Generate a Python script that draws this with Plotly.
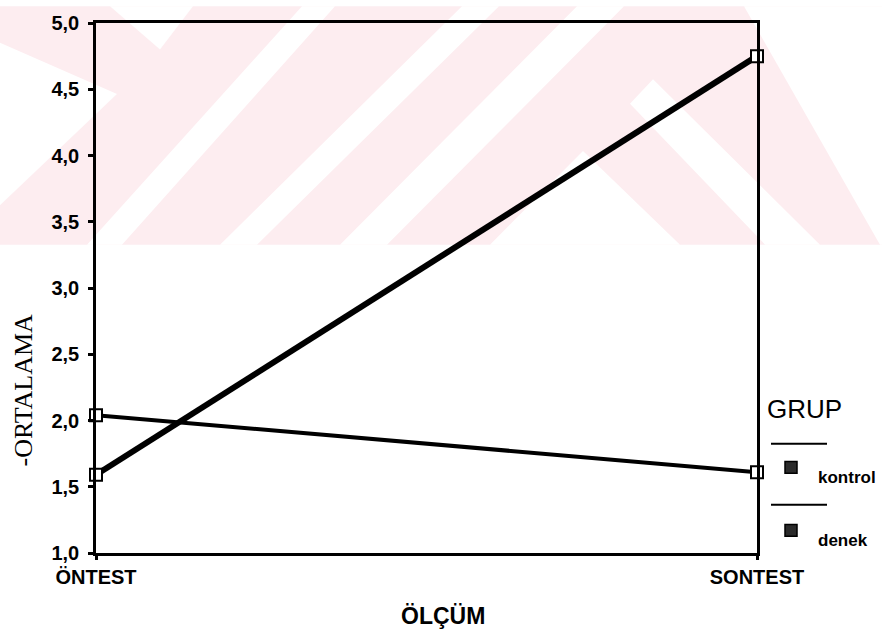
import plotly.graph_objects as go

# ---- data ----
categories = ["ÖNTEST", "SONTEST"]
group_names = ["kontrol", "denek"]
kontrol = [2.04, 1.61]
denek = [1.59, 4.75]
y_ticks = [1.0, 1.5, 2.0, 2.5, 3.0, 3.5, 4.0, 4.5, 5.0]
y_labels = ["1,0", "1,5", "2,0", "2,5", "3,0", "3,5", "4,0", "4,5", "5,0"]
x_title = "ÖLÇÜM"
y_title = "-ORTALAMA"
legend_title = "GRUP"

# ---- layout geometry (pixels) ----
W, H = 882, 638
PL_, PR_, PT_, PB_ = 96, 757, 15, 553          # plot area in pixels
L, T = PL_, PT_
R, B = W - PR_, H - PB_
PW = PR_ - PL_
PH = PB_ - PT_


def px(x):
    return (x - PL_) / PW


def py(y):
    return (PB_ - y) / PH


def poly(points):
    return "M " + " L ".join(f"{px(x):.5f},{py(y):.5f}" for x, y in points) + " Z"


PINK = "#fdedf0"
shapes = []
# faint watermark band at the top
shapes.append(dict(type="path", xref="paper", yref="paper", layer="below",
                   path=poly([(0, -2), (884, -2), (884, 240), (0, 240)]),
                   fillcolor=PINK, line=dict(width=0)))
white_polys = [
    [(0, 35), (117, 87), (0, 200)],
    [(110, -2), (193, -2), (160, 42)],
    [(87, 240), (122, 240), (335, -2), (302, -2)],
    [(220, 240), (257, 240), (499, -2), (462, -2)],
    [(340, 240), (387, 240), (624, -2), (577, -2)],
    [(583, 145), (490, 240), (680, 240)],
    [(653, 72), (630, 97), (765, 240), (820, 240)],
    [(744, -2), (884, -2), (884, 240), (880, 240)],
]
for p in white_polys:
    shapes.append(dict(type="path", xref="paper", yref="paper", layer="below",
                       path=poly(p), fillcolor="white", line=dict(width=0)))

fig = go.Figure()
fig.add_trace(go.Scatter(
    x=categories, y=kontrol, name=group_names[0], mode="lines+markers",
    line=dict(color="black", width=4),
    marker=dict(symbol="square", size=12, color="white", line=dict(color="black", width=2)),
    cliponaxis=False, showlegend=False))
fig.add_trace(go.Scatter(
    x=categories, y=denek, name=group_names[1], mode="lines+markers",
    line=dict(color="black", width=6),
    marker=dict(symbol="square", size=12, color="white", line=dict(color="black", width=2)),
    cliponaxis=False, showlegend=False))

# legend drawn as in the original (line sample above, marker + label below)
legend_rows = [(442, 466, group_names[0]), (504, 530, group_names[1])]
annotations = []
for ly, my, name in legend_rows:
    shapes.append(dict(type="line", xref="paper", yref="paper",
                       x0=px(771), x1=px(827), y0=py(ly), y1=py(ly),
                       line=dict(color="black", width=2)))
    shapes.append(dict(type="rect", xref="paper", yref="paper",
                       x0=px(785), x1=px(797), y0=py(my - 6), y1=py(my + 6),
                       fillcolor="#2b2b2b", line=dict(color="black", width=1.5)))
    annotations.append(dict(text=name, xref="paper", yref="paper",
                            x=px(816), y=py(my + 10), xanchor="left", yanchor="middle",
                            showarrow=False,
                            font=dict(family="Arial, Liberation Sans", size=17, color="black",
                                      weight="bold")))

annotations.append(dict(text=legend_title, xref="paper", yref="paper",
                        x=px(804), y=py(407), xanchor="center", yanchor="middle",
                        showarrow=False,
                        font=dict(family="Arial, Liberation Sans", size=26, color="black")))
annotations.append(dict(text=x_title, xref="paper", yref="paper",
                        x=px(443), y=py(617), xanchor="center", yanchor="middle",
                        showarrow=False,
                        font=dict(family="Arial, Liberation Sans", size=23, color="black",
                                  weight="bold")))
annotations.append(dict(text=y_title, xref="paper", yref="paper",
                        x=px(23), y=py(388), xanchor="center", yanchor="middle",
                        textangle=-90, showarrow=False,
                        font=dict(family="Liberation Serif, Times New Roman", size=26,
                                  color="black")))

fig.update_layout(
    width=W, height=H,
    margin=dict(l=L, r=R, t=T, b=B, pad=0),
    paper_bgcolor="white", plot_bgcolor="rgba(0,0,0,0)",
    shapes=shapes, annotations=annotations,
    showlegend=False,
    xaxis=dict(type="category", categoryorder="array", categoryarray=categories,
               range=[0, 1], showgrid=False, zeroline=False,
               showline=True, linecolor="black", linewidth=2.5, mirror=True,
               ticks="outside", ticklen=4, tickwidth=3, tickcolor="black",
               ticklabeloverflow="allow",
               tickfont=dict(family="Arial, Liberation Sans", size=20, color="black",
                             weight="bold")),
    yaxis=dict(range=[1, 5], tickvals=y_ticks, ticktext=y_labels,
               showgrid=False, zeroline=False,
               showline=True, linecolor="black", linewidth=2.5, mirror=True,
               ticks="outside", ticklen=5, tickwidth=3, tickcolor="black",
               ticklabelstandoff=5, ticklabeloverflow="allow",
               tickfont=dict(family="Arial, Liberation Sans", size=20, color="black",
                             weight="bold")),
)

fig.write_html(
    "out.html",
    config={"displayModeBar": False},
    post_script="document.body.style.margin='0';document.body.style.padding='0';",
)
